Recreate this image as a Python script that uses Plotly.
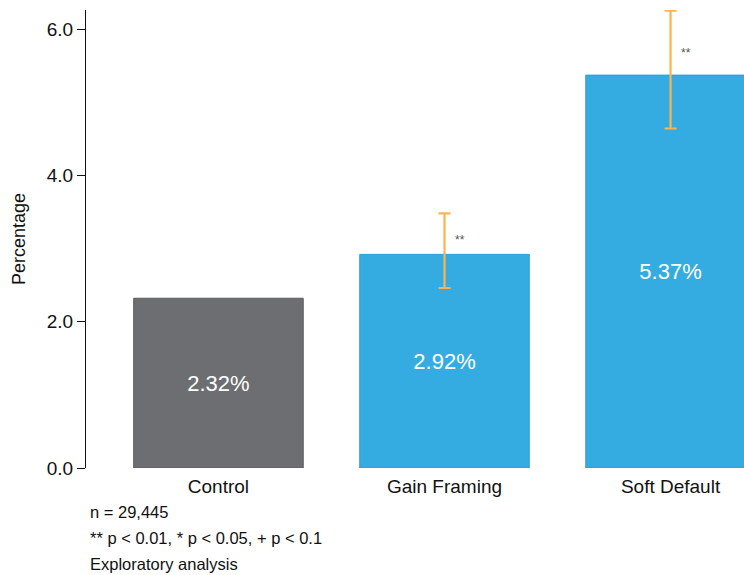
import plotly.graph_objects as go

categories = ["Control", "Gain Framing", "Soft Default"]
values = [2.32, 2.92, 5.37]
labels = ["2.32%", "2.92%", "5.37%"]
err_plus = [None, 0.56, 0.88]
err_minus = [None, 0.46, 0.73]
sig = ["", "**", "**"]
colors = ["#6D6E71", "#35ACE1", "#35ACE1"]
notes = ["n = 29,445", "** p < 0.01, * p < 0.05, + p < 0.1", "Exploratory analysis"]

font = "Liberation Sans, Arial, sans-serif"

fig = go.Figure()
fig.add_trace(go.Bar(
    x=categories, y=values, width=0.75,
    marker=dict(color=colors, line=dict(color=["#5a5b5e", "#2a9fd6", "#2a9fd6"], width=1)),
    text=labels, textposition="inside", insidetextanchor="middle",
    textfont=dict(color="white", size=22, family=font),
    showlegend=False, hoverinfo="skip",
))
ex = [c for c, p in zip(categories, err_plus) if p is not None]
ey = [v for v, p in zip(values, err_plus) if p is not None]
fig.add_trace(go.Scatter(
    x=ex, y=ey, mode="markers", marker=dict(size=0.1, color="rgba(0,0,0,0)"),
    error_y=dict(type="data", symmetric=False,
                 array=[p for p in err_plus if p is not None],
                 arrayminus=[m for m in err_minus if m is not None],
                 color="#FBB450", thickness=2.2, width=6),
    showlegend=False, hoverinfo="skip", cliponaxis=False,
))
for c, v, p, s in zip(categories, values, err_plus, sig):
    if s:
        fig.add_annotation(x=c, y=v + p * 0.35, text=s, showarrow=False, xshift=15,
                           font=dict(size=12, color="#555555", family=font))

for i, t in enumerate(notes):
    fig.add_annotation(xref="paper", yref="paper", x=0.003, y=-0.095 - i * 0.057,
                       xanchor="left", yanchor="middle", text=t, showarrow=False,
                       font=dict(size=16.5, color="#111111", family=font))

fig.update_layout(
    width=744, height=575,
    margin=dict(l=86, r=0, t=10, b=107),
    plot_bgcolor="white", paper_bgcolor="white",
    font=dict(family=font, size=17, color="#111111"),
    bargap=0.25,
    xaxis=dict(range=[-0.586, 2.325], showline=False, ticks="", showgrid=False,
               tickfont=dict(size=19), ticklabelstandoff=5),
    yaxis=dict(range=[0, 6.26], tickvals=[0, 2, 4, 6], tickformat=".1f",
               showline=True, linecolor="#111111", linewidth=1.2,
               ticks="outside", ticklen=8, tickcolor="#111111",
               showgrid=False, zeroline=False, tickfont=dict(size=19),
               title=dict(text="Percentage", font=dict(size=18), standoff=16)),
)
fig.write_html("out.html", config={"displayModeBar": False},
               post_script="document.body.style.margin='0';document.body.style.overflow='hidden';")
